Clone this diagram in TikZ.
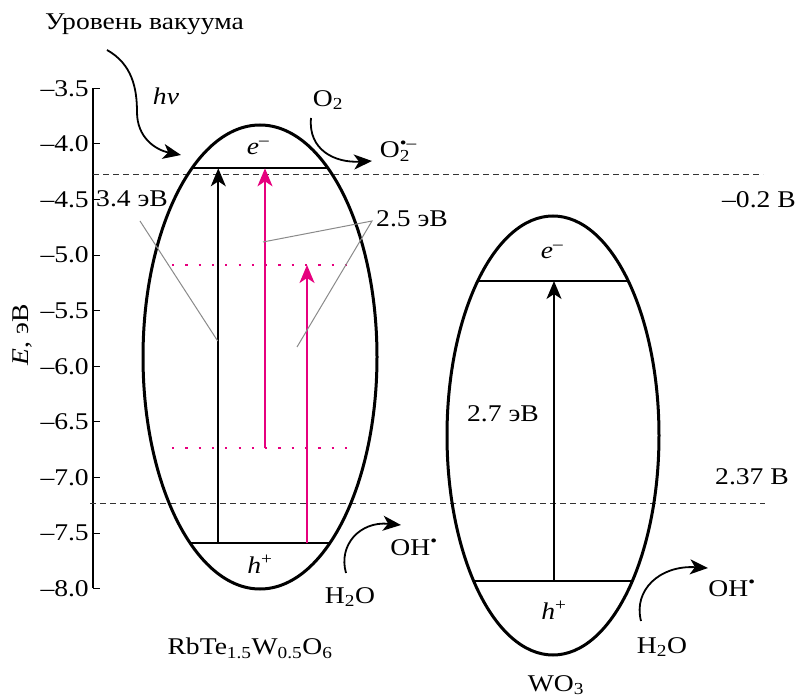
\documentclass[tikz,border=0pt]{standalone}
\usepackage{fontspec}
\setmainfont{Liberation Serif}[FakeStretch=1.15]
\usetikzlibrary{arrows.meta,shapes.geometric}
\definecolor{transmagenta}{HTML}{E6007E}
\definecolor{leadgray}{HTML}{8A8A8A}
\newcommand{\subsup}[2]{\makebox[0pt][l]{\textsuperscript{#2}}\textsubscript{#1}}

\begin{document}
\begin{tikzpicture}[
  x=1pt, y=-1pt,
  >={Stealth[length=18pt,width=15pt,inset=5pt]},
  every node/.style={font=\fontsize{24}{28}\selectfont, inner sep=0pt},
  band/.style={ellipse, draw, line width=3pt, inner sep=0pt},
  level/.style={line width=2pt},
  trans/.style={->, line width=2pt},
  ptrans/.style={->, line width=2.2pt, draw=transmagenta},
  plevel/.style={draw=transmagenta, line width=2.2pt, dash pattern=on 2.2pt off 11.1pt},
  redox/.style={draw=black!80, line width=1pt, dash pattern=on 6pt off 4pt},
  leader/.style={draw=leadgray, line width=1pt},
  react/.style={->, line width=1.8pt}
]
\useasboundingbox (0,0) rectangle (796,695);

% energy axis
\coordinate (atop) at (93,88.3);
\coordinate (abot) at (93,588.3);
\draw[line width=1.1pt] (atop) -- (abot);
\foreach \v [count=\i from 0] in {3.5,4.0,4.5,5.0,5.5,6.0,6.5,7.0,7.5,8.0} {
  \draw[line width=1.1pt] (93,{88.3+55.6*\i}) -- ++(7,0);
  \node[anchor=east] (tick\i) at (89,{88.3+55.6*\i}) {–\v};
}
\node[rotate=90] (ylab) at (22,335) {\textit{E}, эВ};

% redox levels
\coordinate (o2l) at (93,174.5);
\coordinate (o2r) at (763,174.5);
\coordinate (ohl) at (90,503);
\coordinate (ohr) at (765,503);
\draw[redox] (o2l) -- (o2r);
\draw[redox] (ohl) -- (ohr);
\node[anchor=base east] (pot1) at (796,208) {–0.2 В};
\node (pot2) at (752,477) {2.37 В};

% RbTe1.5W0.5O6
\node[band, minimum width=234pt, minimum height=464pt] (rbte) at (260,357) {};
\coordinate (cbla) at (192,168.3);
\coordinate (cblb) at (328,168.3);
\coordinate (vbla) at (190.5,543.3);
\coordinate (vblb) at (329.5,543.3);
\draw[level] (cbla) -- (cblb);
\draw[level] (vbla) -- (vblb);
\coordinate (mla) at (172,265);
\coordinate (mlb) at (348,265);
\coordinate (mlc) at (172,447.7);
\coordinate (mld) at (348,447.7);
\draw[plevel] (mla) -- (mlb);
\draw[plevel] (mlc) -- (mld);
\coordinate (g1a) at (218.3,543.3);
\coordinate (g1b) at (218.3,168.3);
\draw[trans] (g1a) -- (g1b);
\coordinate (g2a) at (265,447.7);
\coordinate (g2b) at (265,168.3);
\draw[ptrans] (g2a) -- (g2b);
\coordinate (g3a) at (307,543.3);
\coordinate (g3b) at (307,265);
\draw[ptrans] (g3a) -- (g3b);
\node (eL) at (258,148) {\textit{e}\textsuperscript{–}};
\node (hL) at (260,564) {\textit{h}\textsuperscript{+}};
\node (nameL) at (250,648) {RbTe\textsubscript{1.5}W\textsubscript{0.5}O\textsubscript{6}};

% band gap labels
\node[anchor=base west] (gap34) at (96,207) {3.4 эВ};
\coordinate (l34a) at (140,221);
\coordinate (l34b) at (217.7,341);
\draw[leader] (l34a) -- (l34b);
\node[anchor=base west] (gap25) at (376,227) {2.5 эВ};
\coordinate (l25) at (372,221);
\coordinate (l25a) at (263,242);
\coordinate (l25b) at (297,347);
\draw[leader] (l25a) -- (l25) -- (l25b);

% WO3
\node[band, minimum width=212pt, minimum height=439pt] (wo3) at (553,435.5) {};
\coordinate (cbra) at (478,281);
\coordinate (cbrb) at (628,281);
\coordinate (vbra) at (474,580.7);
\coordinate (vbrb) at (632,580.7);
\draw[level] (cbra) -- (cbrb);
\draw[level] (vbra) -- (vbrb);
\coordinate (g4a) at (554,580.7);
\coordinate (g4b) at (554,281);
\draw[trans] (g4a) -- (g4b);
\node (eR) at (552,252) {\textit{e}\textsuperscript{–}};
\node (hR) at (554,610) {\textit{h}\textsuperscript{+}};
\node (gap27) at (503,414) {2.7 эВ};
\node (nameR) at (556,685) {WO\textsubscript{3}};

% light and reactions
\node[anchor=base] (vac) at (144.5,30) {Уровень вакуума};
\node (hnu) at (166,96) {\textit{hν}};
\coordinate (hva) at (107,50);
\coordinate (hvb) at (181,155);
\draw[react] (hva) .. controls (132,64) and (137,88) .. (137,112)
  .. controls (137,138) and (156,150) .. (hvb);
\node (o2) at (328,100) {O\textsubscript{2}};
\node (o2rad) at (395,151) {O\subsup{2}{•–}};
\coordinate (o2a) at (311,118);
\coordinate (o2b) at (372,161);
\draw[react] (o2a) .. controls (308,150) and (335,163) .. (o2b);
\node (h2oL) at (350,597) {H\textsubscript{2}O};
\node (ohL) at (414,547) {OH\textsuperscript{•}};
\coordinate (ohLa) at (346,573);
\coordinate (ohLb) at (401,525);
\draw[react] (ohLa) .. controls (338,545) and (360,521) .. (ohLb);
\node (h2oR) at (662,647) {H\textsubscript{2}O};
\node (ohR) at (732,588) {OH\textsuperscript{•}};
\coordinate (ohRa) at (641,621);
\coordinate (ohRb) at (708,568);
\draw[react] (ohRa) .. controls (633,590) and (660,565) .. (ohRb);
\end{tikzpicture}
\end{document}
